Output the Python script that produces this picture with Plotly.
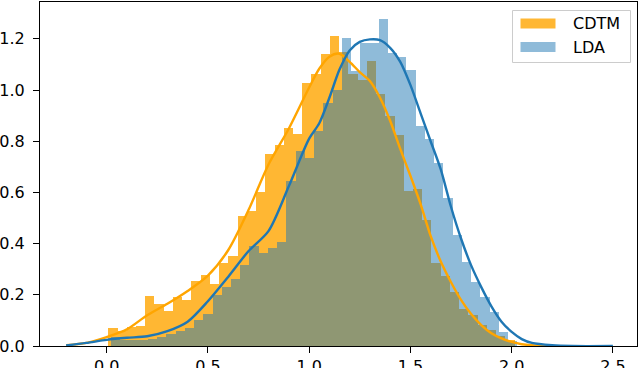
import plotly.graph_objects as go

# histogram densities (one value per bin)
cdtm_first_bin_center = 0.031
lda_first_bin_center = 0.044
bin_width = 0.0456

cdtm_density = [0.070, 0.060, 0.075, 0.080, 0.195, 0.166, 0.136, 0.190, 0.178, 0.253,
                0.276, 0.244, 0.325, 0.350, 0.507, 0.526, 0.600, 0.752, 0.784, 0.853,
                0.830, 1.027, 1.064, 1.142, 1.210, 1.148, 1.061, 1.038, 1.112, 0.986,
                0.900, 0.823, 0.605, 0.615, 0.491, 0.324, 0.272, 0.211, 0.143, 0.120,
                0.081, 0.062, 0.038, 0.022]

lda_density = [0.035, 0.025, 0.022, 0.025, 0.028, 0.035, 0.045, 0.060, 0.070, 0.100,
               0.125, 0.200, 0.230, 0.263, 0.318, 0.391, 0.365, 0.383, 0.406, 0.645,
               0.760, 0.736, 0.840, 0.950, 1.000, 1.203, 1.074, 1.185, 1.185, 1.276,
               1.146, 1.129, 1.080, 0.858, 0.810, 0.716, 0.580, 0.434, 0.330, 0.250,
               0.190, 0.132, 0.055, 0.020]

# kde curves, sampled by eye
cdtm_kde_x = [-0.2, -0.1, 0.0, 0.1, 0.2, 0.3, 0.4, 0.5, 0.6, 0.7, 0.8, 0.9, 1.0, 1.05,
              1.1, 1.15, 1.2, 1.25, 1.3, 1.35, 1.4, 1.45, 1.5, 1.55, 1.6, 1.65, 1.7,
              1.75, 1.8, 1.85, 1.9, 1.95, 2.0, 2.05, 2.1, 2.2]
cdtm_kde_y = [0.003, 0.012, 0.035, 0.065, 0.120, 0.165, 0.215, 0.275, 0.374, 0.530,
              0.710, 0.850, 1.010, 1.083, 1.130, 1.142, 1.110, 1.070, 1.035, 0.970,
              0.880, 0.770, 0.665, 0.555, 0.430, 0.330, 0.250, 0.180, 0.125, 0.082,
              0.050, 0.030, 0.016, 0.007, 0.003, 0.000]

lda_kde_x = [-0.2, -0.1, 0.0, 0.1, 0.2, 0.3, 0.4, 0.5, 0.6, 0.7, 0.8, 0.9, 1.0, 1.05,
             1.1, 1.15, 1.2, 1.25, 1.3, 1.35, 1.4, 1.45, 1.5, 1.55, 1.6, 1.65, 1.7,
             1.75, 1.8, 1.85, 1.9, 1.95, 2.0, 2.05, 2.1, 2.2, 2.3, 2.5]
lda_kde_y = [0.002, 0.012, 0.024, 0.032, 0.038, 0.058, 0.095, 0.175, 0.270, 0.370,
             0.450, 0.625, 0.810, 0.870, 0.970, 1.080, 1.155, 1.188, 1.198, 1.195,
             1.165, 1.110, 1.020, 0.910, 0.800, 0.690, 0.545, 0.420, 0.315, 0.230,
             0.155, 0.095, 0.055, 0.027, 0.012, 0.003, 0.000, 0.000]

x_ticks = [0.0, 0.5, 1.0, 1.5, 2.0, 2.5]
y_ticks = [0.0, 0.2, 0.4, 0.6, 0.8, 1.0, 1.2]

ORANGE = '#FFA500'
BLUE = '#1f77b4'

W, H = 640, 368
M = dict(l=40, r=3, t=2, b=22)


def px_x(p):
    return (p - M['l']) / (W - M['l'] - M['r'])


def px_y(p):
    return 1 - (p - M['t']) / (H - M['t'] - M['b'])


fig = go.Figure()

fig.add_trace(go.Bar(
    y=cdtm_density, x0=cdtm_first_bin_center, dx=bin_width, width=bin_width,
    marker=dict(color='rgba(255,165,0,0.8)', line=dict(width=0)),
    name='CDTM', showlegend=False
))
fig.add_trace(go.Bar(
    y=lda_density, x0=lda_first_bin_center, dx=bin_width, width=bin_width,
    marker=dict(color='rgba(31,119,180,0.5)', line=dict(width=0)),
    name='LDA', showlegend=False
))
fig.add_trace(go.Scatter(
    x=cdtm_kde_x, y=cdtm_kde_y, mode='lines',
    line=dict(color=ORANGE, width=2.4, shape='spline', smoothing=0.8),
    showlegend=False
))
fig.add_trace(go.Scatter(
    x=lda_kde_x, y=lda_kde_y, mode='lines',
    line=dict(color=BLUE, width=2.4, shape='spline', smoothing=0.8),
    showlegend=False
))

# matplotlib-style legend box
fig.add_shape(type='rect', xref='paper', yref='paper',
              x0=px_x(512.5), x1=px_x(630.5), y0=px_y(62.5), y1=px_y(10.5),
              line=dict(color='#cccccc', width=1), fillcolor='rgba(255,255,255,0.8)',
              layer='above')
fig.add_shape(type='rect', xref='paper', yref='paper',
              x0=px_x(520.5), x1=px_x(555.5), y0=px_y(28.5), y1=px_y(18.5),
              line=dict(width=0), fillcolor='rgba(255,165,0,0.8)', layer='above')
fig.add_shape(type='rect', xref='paper', yref='paper',
              x0=px_x(520.5), x1=px_x(555.5), y0=px_y(52), y1=px_y(42),
              line=dict(width=0), fillcolor='rgba(31,119,180,0.5)', layer='above')
for label, ypos in [('CDTM', 23.5), ('LDA', 47)]:
    fig.add_annotation(text=label, xref='paper', yref='paper',
                       x=px_x(571), y=px_y(ypos), xanchor='left', yanchor='middle',
                       showarrow=False, font=dict(size=16, color='black'))

axis_style = dict(showline=True, linecolor='black', linewidth=1, mirror=True,
                  ticks='outside', ticklen=6, tickwidth=1, tickcolor='black',
                  showgrid=False, zeroline=False, tickformat='.1f', automargin=False)

fig.update_xaxes(range=[-0.329, 2.619], tickvals=x_ticks, **axis_style)
fig.update_yaxes(range=[0, 1.344], tickvals=y_ticks, ticklabelstandoff=5, **axis_style)

fig.update_layout(
    width=W, height=H,
    margin=M,
    barmode='overlay',
    bargap=0,
    plot_bgcolor='white',
    paper_bgcolor='white',
    font=dict(family='DejaVu Sans', size=16, color='black'),
    showlegend=False
)

# drop the browser's default 8px body margin so the figure sits at the page corner
fig.write_html("out.html", config={'displayModeBar': False},
               post_script="document.body.style.margin='0';")
